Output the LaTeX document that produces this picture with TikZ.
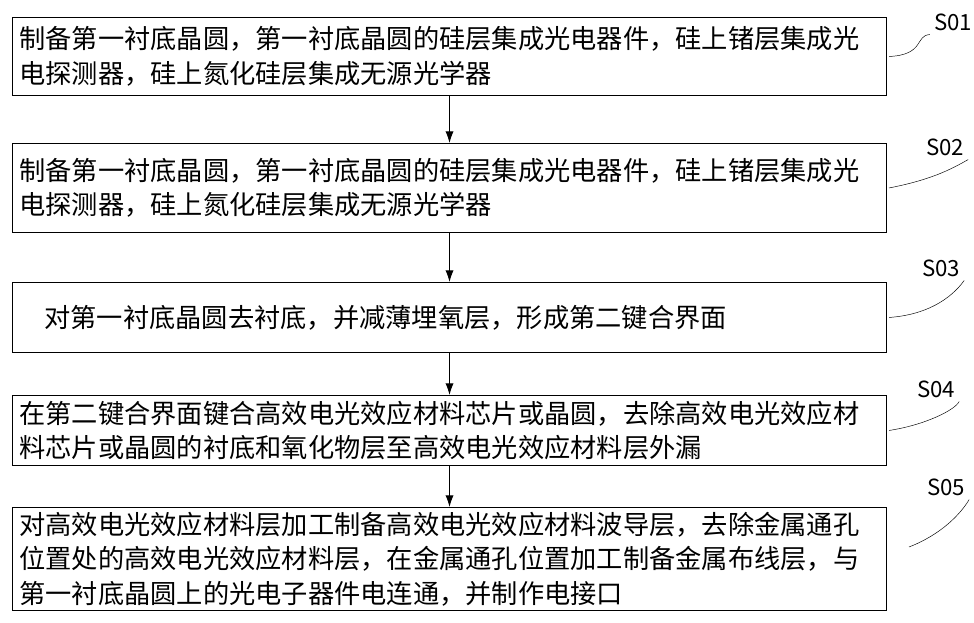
\documentclass[tikz,border=0pt]{standalone}
\usepackage{fontspec}
\setmainfont{Noto Sans CJK SC}
\usetikzlibrary{arrows.meta, positioning}

\begin{document}
\begin{tikzpicture}[
    x=0.03cm, y=-0.03cm,
    box/.style={draw, thick, rectangle, minimum width=26.19cm, text width=25.8cm, align=left, anchor=north west, inner xsep=6pt, font=\fontsize{22.4}{29.5}\selectfont},
    arrow/.style={-{Latex[length=10pt,width=7pt]}, thick},
    tag/.style={font=\fontsize{19}{20}\selectfont},
    leader/.style={thin}
]
\useasboundingbox (0,0) rectangle (974,623);

% Schritte
\node[box, minimum height=2.34cm] (s1) at (12,17) {制备第一衬底晶圆，第一衬底晶圆的硅层集成光电器件，硅上锗层集成光\\电探测器，硅上氮化硅层集成无源光学器};
\node[box, minimum height=2.67cm] (s2) at (12,143) {制备第一衬底晶圆，第一衬底晶圆的硅层集成光电器件，硅上锗层集成光\\电探测器，硅上氮化硅层集成无源光学器};
\node[box, minimum height=2.1cm] (s3) at (12,282) {\hspace*{0.75cm}对第一衬底晶圆去衬底，并减薄埋氧层，形成第二键合界面};
\node[box, minimum height=2.1cm] (s4) at (12,395) {在第二键合界面键合高效电光效应材料芯片或晶圆，去除高效电光效应材\\料芯片或晶圆的衬底和氧化物层至高效电光效应材料层外漏};
\node[box, minimum height=3.09cm] (s5) at (12,507) {对高效电光效应材料层加工制备高效电光效应材料波导层，去除金属通孔\\位置处的高效电光效应材料层，在金属通孔位置加工制备金属布线层，与\\第一衬底晶圆上的光电子器件电连通，并制作电接口};

% Pfeile
\draw[arrow] (s1) -- (s2);
\draw[arrow] (s2) -- (s3);
\draw[arrow] (s3) -- (s4);
\draw[arrow] (s4) -- (s5);

% Marken
\node[tag] (t1) at (953,22) {S01};
\node[tag] (t2) at (945,147) {S02};
\node[tag] (t3) at (941,268) {S03};
\node[tag] (t4) at (936,389) {S04};
\node[tag] (t5) at (946,487) {S05};
\draw[leader] (s1.east) ++(2,0) .. controls (925,55) and (915,35) .. (t1.south west);
\draw[leader] (s2.east) ++(2,0) .. controls (930,180) and (950,170) .. (t2.south east);
\draw[leader] (s3.east) ++(2,0) .. controls (925,315) and (950,300) .. (t3.south east);
\draw[leader] (s4.east) ++(2,0) .. controls (925,425) and (955,410) .. (t4.south east);
\draw[leader] (s5.east) ++(22,-12) .. controls (940,535) and (960,515) .. (t5.south east);
\end{tikzpicture}
\end{document}
